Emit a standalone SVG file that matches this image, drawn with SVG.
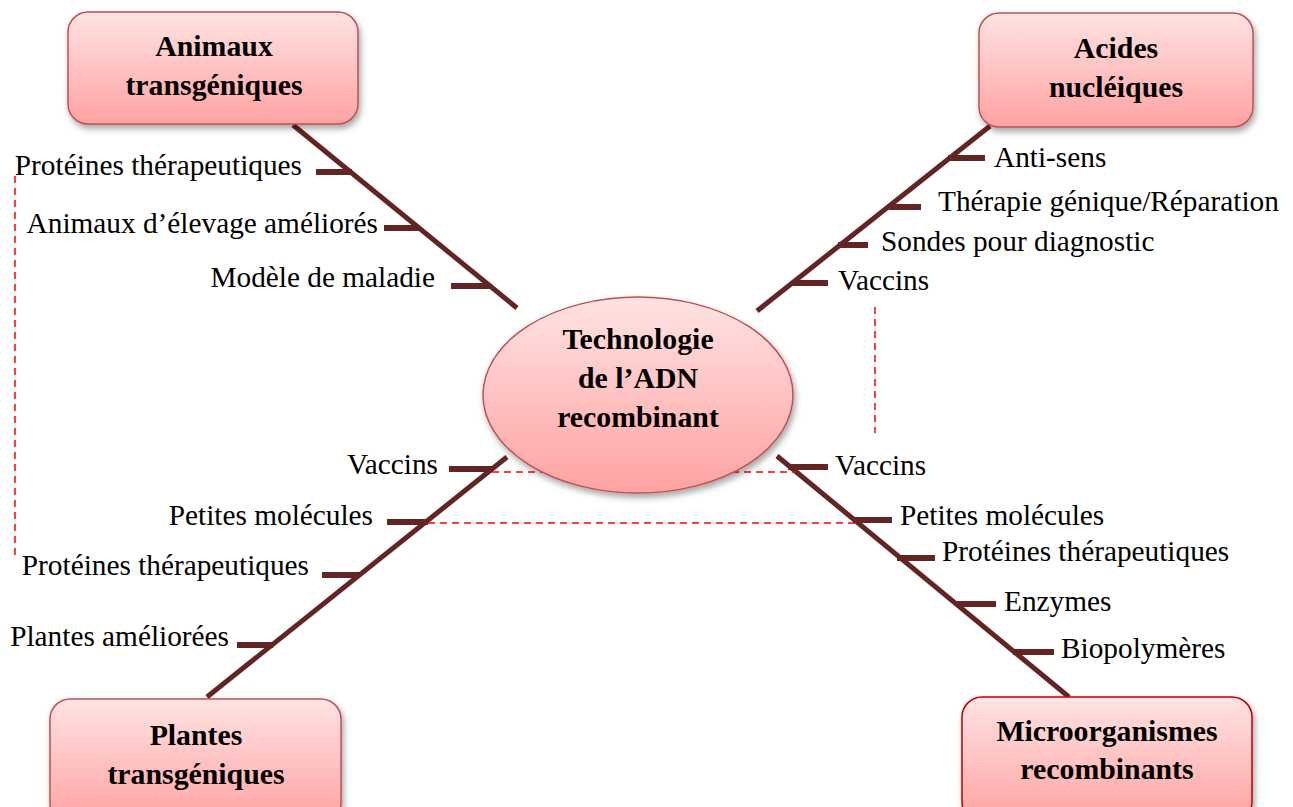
<svg xmlns="http://www.w3.org/2000/svg" width="1293" height="807" viewBox="0 0 1293 807">
<style>
.box{stroke:#C0504D;stroke-width:1.5;fill:url(#g);filter:url(#sh)}
.box2{stroke:#C00000;stroke-width:1.5;fill:url(#g);filter:url(#sh)}
.t{font-family:"Liberation Serif","Times New Roman",serif;font-size:29.3px;fill:#000}
.b{font-family:"Liberation Serif","Times New Roman",serif;font-size:29.8px;font-weight:bold;fill:#000;text-anchor:middle}
.br{stroke:#632523;stroke-width:5;fill:none}
.tk{stroke:#632523;stroke-width:6;fill:none}
.d{stroke:#FF0000;stroke-width:1.5;stroke-dasharray:7,5;fill:none}
</style>
<defs>
<linearGradient id="g" x1="0" y1="0" x2="0" y2="1">
<stop offset="0" stop-color="#FFE3E3"/>
<stop offset="1" stop-color="#FFA2A2"/>
</linearGradient>
<filter id="sh" x="-10%" y="-10%" width="125%" height="130%">
<feDropShadow dx="2" dy="4" stdDeviation="3" flood-color="#000" flood-opacity="0.35"/>
</filter>
</defs>
<rect width="1293" height="807" fill="#fff"/>
<g id="connectors">
<path class="br" d="M293,125 L517,308"/>
<path class="tk" d="M316,172 H352 M384,228 H420 M451,286 H490"/>
<path class="br" d="M990,126 L757,311"/>
<path class="tk" d="M948,158 H985 M889,207 H921 M838,245 H868 M792,283 H828"/>
<path class="br" d="M507,457 L207,697"/>
<path class="tk" d="M449,469 H492 M387,522 H428 M322,575 H360 M237,645 H273"/>
<path class="br" d="M777,456 L1069,697"/>
<path class="tk" d="M788,467 H828 M853,520 H892 M897,558 H935 M956,604 H996 M1013,652 H1054"/>
<path class="d" d="M15,176 V557"/>
<path class="d" d="M875,307 V433"/>
<path class="d" d="M492,472 H795"/>
<path class="d" d="M428,523 H858"/>
</g>
<g id="center">
<ellipse class="box" cx="638" cy="395" rx="155" ry="98"/>
<text class="b" x="638" y="349">Technologie</text>
<text class="b" x="638" y="388">de l’ADN</text>
<text class="b" x="638" y="427">recombinant</text>
</g>
<g id="animaux">
<rect class="box" x="68" y="12" width="290" height="112" rx="20"/>
<text class="b" x="214" y="56">Animaux</text>
<text class="b" x="214" y="95">transgéniques</text>
</g>
<g id="acides">
<rect class="box" x="979" y="13" width="274" height="114" rx="20"/>
<text class="b" x="1116" y="58">Acides</text>
<text class="b" x="1116" y="97">nucléiques</text>
</g>
<g id="plantes">
<rect class="box" x="50" y="699" width="291" height="125" rx="20"/>
<text class="b" x="196" y="745">Plantes</text>
<text class="b" x="196" y="784">transgéniques</text>
</g>
<g id="micro">
<rect class="box2" x="962" y="697" width="290" height="125" rx="20"/>
<text class="b" x="1107" y="741">Microorganismes</text>
<text class="b" x="1107" y="779">recombinants</text>
</g>
<g id="labels-animaux">
<text class="t" x="302" y="175" text-anchor="end">Protéines thérapeutiques</text>
<text class="t" x="378" y="233" text-anchor="end">Animaux d’élevage améliorés</text>
<text class="t" x="435" y="287" text-anchor="end">Modèle de maladie</text>
</g>
<g id="labels-acides">
<text class="t" x="994" y="167">Anti-sens</text>
<text class="t" x="938" y="211">Thérapie génique/Réparation</text>
<text class="t" x="881" y="251">Sondes pour diagnostic</text>
<text class="t" x="838" y="290">Vaccins</text>
</g>
<g id="labels-plantes">
<text class="t" x="438" y="474" text-anchor="end">Vaccins</text>
<text class="t" x="373" y="525" text-anchor="end">Petites molécules</text>
<text class="t" x="309" y="575" text-anchor="end">Protéines thérapeutiques</text>
<text class="t" x="229" y="646" text-anchor="end">Plantes améliorées</text>
</g>
<g id="labels-micro">
<text class="t" x="835" y="475">Vaccins</text>
<text class="t" x="900" y="525">Petites molécules</text>
<text class="t" x="942" y="561">Protéines thérapeutiques</text>
<text class="t" x="1004" y="611">Enzymes</text>
<text class="t" x="1061" y="658">Biopolymères</text>
</g>
</svg>
